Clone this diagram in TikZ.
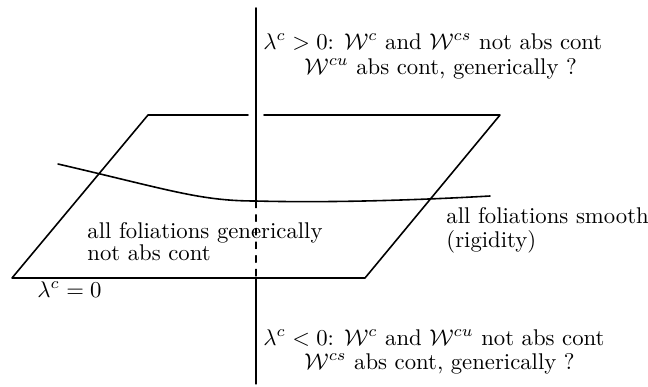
\documentclass[tikz,border=0pt]{standalone}
\usepackage{amsmath}
\begin{document}
\begin{tikzpicture}[line cap=round, line join=round, x=0.44pt, y=-0.44pt]
		% Define main parameters
		\def\ax{256}   % position of the vertical axis
		\def\gap{8}    % half gap in the back edge
		
		\useasboundingbox (0,0) rectangle (648,386);
		
		% Define corner points of the plane
		\coordinate (A) at (12,278);
		\coordinate (B) at (365,278);
		\coordinate (C) at (500,115);
		\coordinate (D) at (148,115);
		
		% Draw the plane (back edge broken by the axis)
		\draw[line width=0.7pt] (\ax-\gap,115) -- (D) -- (A) -- (B) -- (C) -- (\ax+\gap,115);
		
		% Curve through the plane
		\coordinate (P) at (\ax,201);
		\draw[line width=0.7pt] (58,164) .. controls (170,190) and (200,201) .. (P)
			.. controls (330,203) and (420,200) .. (490,196);
		
		% Vertical axis: solid above, dashed behind the plane, solid below
		\coordinate (T) at (\ax,8);
		\coordinate (Q) at (\ax,278);
		\coordinate (S) at (\ax,384);
		\draw[line width=0.7pt] (T) -- (P);
		\draw[line width=0.45pt, dashed] (P) -- (Q);
		\draw[line width=0.45pt] (Q) -- (S);
		
		% Labels
		\node[anchor=base west, inner sep=0pt] (up1) at (263,49) {$\lambda^c>0$: $\mathcal{W}^c$ and $\mathcal{W}^{cs}$ not abs cont};
		\node[anchor=base west, inner sep=0pt] (up2) at (304,74) {$\mathcal{W}^{cu}$ abs cont, generically ?};
		
		\node[anchor=base west, inner sep=0pt] (gen1) at (87,238) {all foliations generically};
		\node[anchor=base west, inner sep=0pt] (gen2) at (87,260) {not abs cont};
		
		\node[anchor=base west, inner sep=0pt] (rig1) at (446,223) {all foliations smooth};
		\node[anchor=base west, inner sep=0pt] (rig2) at (446,247) {(rigidity)};
		
		\node[anchor=base west, inner sep=0pt] (zero) at (37,297) {$\lambda^c=0$};
		
		\node[anchor=base west, inner sep=0pt] (dn1) at (263,345) {$\lambda^c<0$: $\mathcal{W}^c$ and $\mathcal{W}^{cu}$ not abs cont};
		\node[anchor=base west, inner sep=0pt] (dn2) at (304,369) {$\mathcal{W}^{cs}$ abs cont, generically ?};
	\end{tikzpicture}
\end{document}
